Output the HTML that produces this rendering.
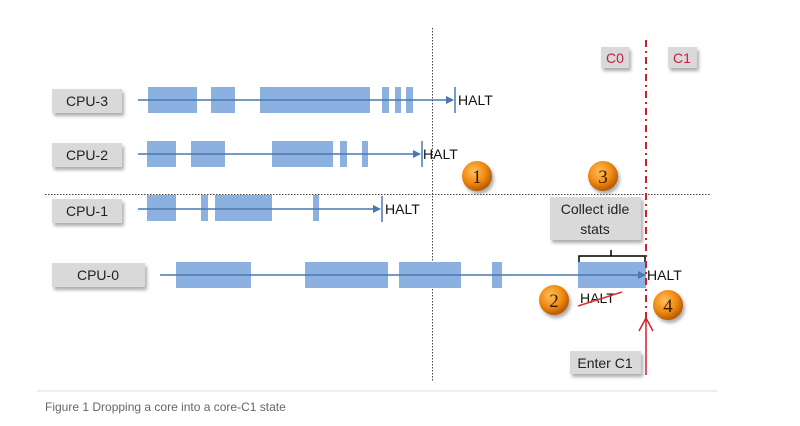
<!DOCTYPE html>
<html><head><meta charset="utf-8"><style>
html,body{margin:0;padding:0;background:#fff;width:800px;height:426px;overflow:hidden}
svg{display:block}
.t{font-family:"Liberation Sans",sans-serif;font-size:14px;fill:#111}
.lb{font-family:"Liberation Sans",sans-serif;font-size:14px;fill:#222;text-anchor:middle}
.n{font-family:"Liberation Serif",serif;font-size:19px;fill:#3a1a00;text-anchor:middle}
</style></head><body>
<svg width="800" height="426" viewBox="0 0 800 426" xmlns="http://www.w3.org/2000/svg">
<defs>
<filter id="sh" x="-20%" y="-20%" width="150%" height="160%"><feDropShadow dx="2" dy="3" stdDeviation="1.5" flood-color="#777" flood-opacity="0.6"/></filter>
<radialGradient id="og" cx="40%" cy="35%" r="65%"><stop offset="0" stop-color="#ffc060"/><stop offset="0.6" stop-color="#f08a10"/><stop offset="1" stop-color="#b85a00"/></radialGradient>
<marker id="ar" markerWidth="8" markerHeight="8" refX="7" refY="4" orient="auto" markerUnits="userSpaceOnUse"><path d="M0,0 L8,4 L0,8 z" fill="#4a78b0"/></marker>
</defs>
<!-- dotted guides -->
<line x1="432.5" y1="28" x2="432.5" y2="382" stroke="#444" stroke-width="1" stroke-dasharray="1.5,1.5"/>
<line x1="45" y1="194.5" x2="710" y2="194.5" stroke="#444" stroke-width="1" stroke-dasharray="1.5,1.5"/>
<line x1="37" y1="391" x2="717" y2="391" stroke="#ddd" stroke-width="1"/>
<!-- labels -->
<g filter="url(#sh)" fill="#d9d9d9">
<rect x="52" y="89" width="70" height="24"/>
<rect x="52" y="143" width="70" height="24"/>
<rect x="52" y="199" width="70" height="24"/>
<rect x="52" y="263" width="93" height="24"/>
<rect x="601" y="47" width="28" height="21"/>
<rect x="668" y="47" width="29" height="21"/>
<rect x="550" y="197" width="91" height="43"/>
<rect x="570" y="351" width="71" height="23"/>
</g>
<text class="lb" x="87" y="106">CPU-3</text>
<text class="lb" x="87" y="160">CPU-2</text>
<text class="lb" x="87" y="216">CPU-1</text>
<text class="lb" x="98" y="280">CPU-0</text>
<text class="lb" x="615" y="63" style="fill:#c0203a">C0</text>
<text class="lb" x="682" y="63" style="fill:#c0203a">C1</text>
<text class="lb" x="595" y="214">Collect idle</text>
<text class="lb" x="595" y="234">stats</text>
<text class="lb" x="605" y="368">Enter C1</text>
<!-- bars -->
<g fill="#8cb0e0">
<rect x="148" y="87" width="49" height="26"/><rect x="211" y="87" width="24" height="26"/><rect x="260" y="87" width="110" height="26"/><rect x="382" y="87" width="7" height="26"/><rect x="395" y="87" width="6" height="26"/><rect x="406" y="87" width="7" height="26"/>
<rect x="147" y="141" width="29" height="26"/><rect x="191" y="141" width="34" height="26"/><rect x="272" y="141" width="61" height="26"/><rect x="340" y="141" width="7" height="26"/><rect x="362" y="141" width="6" height="26"/>
<rect x="147" y="195" width="29" height="26"/><rect x="201" y="195" width="7" height="26"/><rect x="215" y="195" width="57" height="26"/><rect x="313" y="195" width="6" height="26"/>
<rect x="176" y="262" width="75" height="26"/><rect x="305" y="262" width="83" height="26"/><rect x="399" y="262" width="62" height="26"/><rect x="492" y="262" width="10" height="26"/><rect x="578" y="262" width="68" height="26"/>
</g>
<!-- lines -->
<g stroke="#4a78b0" stroke-width="1.5" fill="none">
<line x1="138" y1="100" x2="453" y2="100" marker-end="url(#ar)"/><line x1="455" y1="87" x2="455" y2="113"/>
<line x1="138" y1="154" x2="420" y2="154" marker-end="url(#ar)"/><line x1="422" y1="141" x2="422" y2="167"/>
<line x1="138" y1="209" x2="380" y2="209" marker-end="url(#ar)"/><line x1="382" y1="196" x2="382" y2="222"/>
<line x1="160" y1="275" x2="645" y2="275" marker-end="url(#ar)"/>
</g>
<text class="t" x="458" y="105">HALT</text>
<text class="t" x="423" y="159">HALT</text>
<text class="t" x="385" y="214">HALT</text>
<text class="t" x="647" y="280">HALT</text>
<text class="t" x="580" y="303">HALT</text>
<line x1="578" y1="306" x2="622" y2="292" stroke="#e03030" stroke-width="1.5"/>
<!-- brace -->
<path d="M579,262 V256 H611 V250 M611,256 H645 V262" stroke="#000" stroke-width="1.5" fill="none"/>
<!-- red dash-dot -->
<line x1="646" y1="40" x2="646" y2="318" stroke="#d02030" stroke-width="2" stroke-dasharray="7,4,2,4"/>
<line x1="646" y1="375" x2="646" y2="318" stroke="#d02030" stroke-width="1.5"/>
<path d="M639,331 L646,318 L653,331" stroke="#d02030" stroke-width="1.5" fill="none"/>
<!-- circles -->
<g filter="url(#sh)" fill="url(#og)">
<circle cx="477" cy="176" r="15"/><circle cx="603" cy="176" r="15"/><circle cx="554" cy="300" r="15"/><circle cx="668" cy="305" r="15"/>
</g>
<text class="n" x="477" y="183">1</text><text class="n" x="603" y="183">3</text><text class="n" x="554" y="307">2</text><text class="n" x="668" y="312">4</text>
<text x="45" y="411" style="font-family:'Liberation Sans',sans-serif;font-size:12px;fill:#666">Figure 1 Dropping a core into a core-C1 state</text>
</svg>
</body></html>
